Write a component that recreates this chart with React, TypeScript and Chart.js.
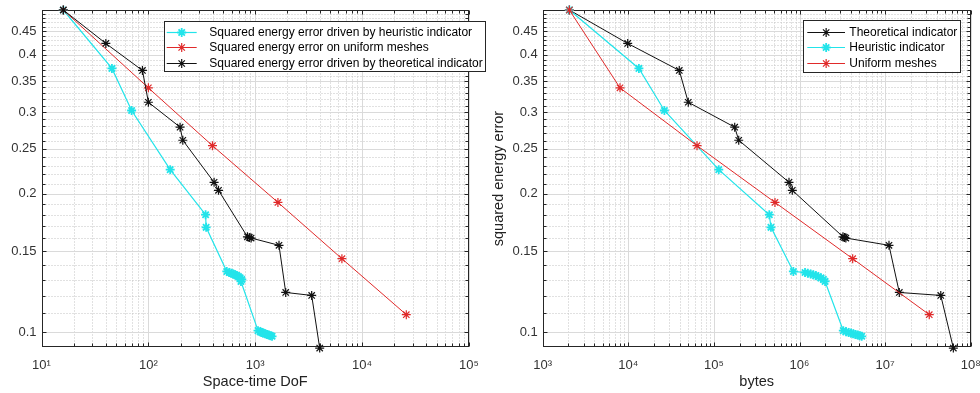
import React, { useEffect, useRef } from 'react';
import { Chart, registerables } from 'chart.js';
import { drawPoint } from 'chart.js/helpers';

Chart.register(...registerables);

// ---------------- data ----------------
const ERR_TICKS = [0.1, 0.15, 0.2, 0.25, 0.3, 0.35, 0.4, 0.45];
const DOF_TICKS = [1e1, 1e2, 1e3, 1e4, 1e5];
const BYTES_TICKS = [1e3, 1e4, 1e5, 1e6, 1e7, 1e8];

const UNIFORM_ERR = [0.5, 0.339, 0.254, 0.1914, 0.1445, 0.1093];
const UNIFORM_DOF = [16, 100, 398, 1630, 6470, 25900];
const UNIFORM_BYTES = [2050, 8000, 63500, 517000, 4.18e6, 3.28e7];

const THEO_ERR = [0.5, 0.4231, 0.3698, 0.3155, 0.2786, 0.261, 0.2116, 0.2033, 0.1612, 0.1607, 0.1602, 0.1545, 0.1221, 0.1203, 0.0925];
const THEO_DOF = [16, 40, 88, 100, 198, 210, 412, 453, 845, 880, 915, 1668, 1928, 3373, 4009];
const THEO_BYTES = [2050, 9840, 39400, 50200, 175000, 195000, 754000, 824000, 3.22e6, 3.35e6, 3.48e6, 1.11e7, 1.466e7, 4.47e7, 6.27e7];

const HEUR_ERR = [
  0.5, 0.3735, 0.3028, 0.2254, 0.18, 0.169,
  0.1356, 0.1349, 0.1344, 0.1339, 0.1334, 0.1328, 0.1321, 0.1313, 0.1303, 0.129,
  0.1009, 0.1004, 0.1, 0.0997, 0.0993, 0.099, 0.0987, 0.0984, 0.0981,
];
const HEUR_DOF = [
  16, 45.6, 69.7, 160, 343, 347,
  542, 572, 598, 622, 648, 672, 698, 722, 748, 735,
  1062, 1110, 1150, 1190, 1240, 1290, 1340, 1390, 1436,
];
const HEUR_BYTES = [
  2050, 13300, 26400, 114000, 444000, 464000,
  848000, 1.16e6, 1.25e6, 1.35e6, 1.45e6, 1.55e6, 1.66e6, 1.78e6, 1.9e6, 1.99e6,
  3.25e6, 3.5e6, 3.75e6, 4.0e6, 4.25e6, 4.5e6, 4.8e6, 5.05e6, 5.33e6,
];

const Y_MIN = 0.093;
const Y_MAX = 0.5;

// ---------------- styles ----------------
const FONT = '"Liberation Sans", Arial, Helvetica, sans-serif';
const CYAN = '#22e4ea';
const RED = '#e02a2a';
const BLACK = '#111111';
const AXIS = '#262626';

const SUP = ['⁰', '¹', '²', '³', '⁴', '⁵', '⁶', '⁷', '⁸', '⁹'];
const powLabel = (v: number) =>
  '10' + String(Math.round(Math.log10(v))).split('').map((d) => SUP[+d]).join('');

function logGrid(min: number, max: number) {
  const out: { v: number; major: boolean }[] = [];
  const k0 = Math.floor(Math.log10(min) + 1e-9);
  const k1 = Math.ceil(Math.log10(max) - 1e-9);
  for (let k = k0; k <= k1; k++) {
    for (let m = 1; m <= 9; m++) {
      const v = m * Math.pow(10, k);
      if (v >= min * (1 - 1e-9) && v <= max * (1 + 1e-9)) out.push({ v, major: m === 1 });
    }
  }
  return out;
}
function errGrid(min: number, max: number) {
  const out: { v: number; major: boolean }[] = [];
  for (let c = 9; c <= 50; c++) {
    const v = c / 100;
    if (v >= min - 1e-9 && v <= max + 1e-9) out.push({ v, major: ERR_TICKS.some((t) => Math.abs(t - v) < 1e-9) });
  }
  return out;
}

const axesPlugin = {
  id: 'mAxes',
  beforeDatasetsDraw(chart: any) {
    const { ctx, chartArea: a } = chart;
    const xs = chart.scales.x;
    const ys = chart.scales.y;
    const L = Math.round(a.left) + 0.5;
    const R = Math.round(a.right) - 0.5;
    const T = Math.round(a.top) + 0.5;
    const B = Math.round(a.bottom) - 0.5;
    const xg = logGrid(xs.min, xs.max).map((g) => ({ p: Math.round(xs.getPixelForValue(g.v)) + 0.5, major: g.major }));
    const yg = errGrid(ys.min, ys.max).map((g) => ({ p: Math.round(ys.getPixelForValue(g.v)) + 0.5, major: g.major }));
    ctx.save();
    ctx.lineWidth = 1;
    // minor grid (dotted)
    ctx.strokeStyle = '#c2c2c2';
    ctx.setLineDash([1, 2]);
    ctx.beginPath();
    for (const g of xg) if (!g.major) { ctx.moveTo(g.p, T); ctx.lineTo(g.p, B); }
    for (const g of yg) if (!g.major) { ctx.moveTo(L, g.p); ctx.lineTo(R, g.p); }
    ctx.stroke();
    // major grid
    ctx.setLineDash([]);
    ctx.strokeStyle = '#dadada';
    ctx.beginPath();
    for (const g of xg) if (g.major) { ctx.moveTo(g.p, T); ctx.lineTo(g.p, B); }
    for (const g of yg) if (g.major) { ctx.moveTo(L, g.p); ctx.lineTo(R, g.p); }
    ctx.stroke();
    // box
    ctx.strokeStyle = AXIS;
    ctx.strokeRect(L, T, R - L, B - T);
    // inward tick marks
    ctx.beginPath();
    for (const g of xg) {
      const len = g.major ? 4 : 3;
      ctx.moveTo(g.p, B); ctx.lineTo(g.p, B - len);
      ctx.moveTo(g.p, T); ctx.lineTo(g.p, T + len);
    }
    for (const g of yg) {
      const len = g.major ? 4 : 3;
      ctx.moveTo(L, g.p); ctx.lineTo(L + len, g.p);
      ctx.moveTo(R, g.p); ctx.lineTo(R - len, g.p);
    }
    ctx.stroke();
    ctx.restore();
  },
};

type Series = { label: string; xs: number[]; ys: number[]; color: string; lw: number; mw: number };
type LegendCfg = { x: number; y: number; w: number; h: number; lineX0: number; lineX1: number; textX: number; rowY: number[]; items: number[] };
type PanelCfg = {
  series: Series[];
  xMin: number;
  xMax: number;
  xTicks: number[];
  xTitle: string;
  yTitle: string;
  yWidth: number;
  padRight: number;
  legend: LegendCfg;
};

function makeLegendPlugin(lg: LegendCfg, series: Series[]) {
  return {
    id: 'mLegend',
    afterDraw(chart: any) {
      const { ctx } = chart;
      ctx.save();
      ctx.fillStyle = '#ffffff';
      ctx.fillRect(lg.x, lg.y, lg.w, lg.h);
      ctx.strokeStyle = AXIS;
      ctx.lineWidth = 1;
      ctx.strokeRect(Math.round(lg.x) + 0.5, Math.round(lg.y) + 0.5, Math.round(lg.w), Math.round(lg.h));
      lg.items.forEach((idx, i) => {
        const s = series[idx];
        const yy = Math.round(lg.rowY[i]) + 0.5;
        ctx.strokeStyle = s.color;
        ctx.fillStyle = s.color;
        ctx.lineWidth = s.lw;
        ctx.beginPath();
        ctx.moveTo(lg.lineX0, yy);
        ctx.lineTo(lg.lineX1, yy);
        ctx.stroke();
        ctx.lineWidth = s.mw;
        drawPoint(ctx, { pointStyle: 'star', radius: 4.5, rotation: 0, borderWidth: s.mw } as any, (lg.lineX0 + lg.lineX1) / 2, yy);
        ctx.fillStyle = '#000000';
        ctx.font = `12px ${FONT}`;
        ctx.textBaseline = 'middle';
        ctx.textAlign = 'left';
        ctx.fillText(s.label, lg.textX, yy);
      });
      ctx.restore();
    },
  };
}

function buildConfig(cfg: PanelCfg): any {
  const n = cfg.series.length;
  return {
    type: 'scatter',
    data: {
      datasets: cfg.series.map((s, i) => ({
        label: s.label,
        data: s.xs.map((x, j) => ({ x, y: s.ys[j] })),
        showLine: true,
        borderColor: s.color,
        backgroundColor: s.color,
        borderWidth: s.lw,
        pointStyle: 'star',
        pointRadius: 4.5,
        pointBorderWidth: s.mw,
        pointBorderColor: s.color,
        pointBackgroundColor: s.color,
        tension: 0,
        clip: false,
        order: n - 1 - i,
      })),
    },
    options: {
      responsive: false,
      animation: false,
      devicePixelRatio: 1,
      events: [],
      layout: { padding: { left: 0, top: 10, right: cfg.padRight, bottom: 0 } },
      plugins: { legend: { display: false }, tooltip: { enabled: false } },
      scales: {
        x: {
          type: 'logarithmic',
          position: 'bottom',
          min: cfg.xMin,
          max: cfg.xMax,
          afterBuildTicks: (s: any) => {
            s.ticks = cfg.xTicks.map((v) => ({ value: v }));
          },
          afterFit: (s: any) => {
            s.height = 46;
            s.paddingLeft = 0;
            s.paddingRight = 0;
          },
          grid: { display: false, drawTicks: false },
          border: { display: false },
          ticks: {
            autoSkip: false,
            maxRotation: 0,
            minRotation: 0,
            padding: 11,
            color: '#333333',
            font: { family: FONT, size: 13 },
            callback: (v: any) => powLabel(Number(v)),
          },
          title: {
            display: true,
            text: cfg.xTitle,
            color: '#222222',
            font: { family: FONT, size: 14.5 },
            padding: { top: 0, bottom: 2 },
          },
        },
        y: {
          type: 'logarithmic',
          position: 'left',
          min: Y_MIN,
          max: Y_MAX,
          afterBuildTicks: (s: any) => {
            s.ticks = ERR_TICKS.map((v) => ({ value: v }));
          },
          afterFit: (s: any) => {
            s.width = cfg.yWidth;
            s.paddingTop = 0;
            s.paddingBottom = 0;
          },
          grid: { display: false, drawTicks: false },
          border: { display: false },
          ticks: {
            autoSkip: false,
            padding: 5,
            color: '#333333',
            font: { family: FONT, size: 13 },
            callback: (v: any) => String(+Number(v).toFixed(2)),
          },
          title: {
            display: !!cfg.yTitle,
            text: cfg.yTitle,
            color: '#222222',
            font: { family: FONT, size: 14.5 },
            padding: { top: 0, bottom: 0 },
          },
        },
      },
    },
    plugins: [axesPlugin, makeLegendPlugin(cfg.legend, cfg.series)],
  };
}

const LEFT_CFG: PanelCfg = {
  series: [
    { label: 'Squared energy error driven by heuristic indicator', xs: HEUR_DOF, ys: HEUR_ERR, color: CYAN, lw: 1.2, mw: 1.8 },
    { label: 'Squared energy error on uniform meshes', xs: UNIFORM_DOF, ys: UNIFORM_ERR, color: RED, lw: 1, mw: 1.2 },
    { label: 'Squared energy error driven by theoretical indicator', xs: THEO_DOF, ys: THEO_ERR, color: BLACK, lw: 1, mw: 1.2 },
  ],
  xMin: 1e1,
  xMax: 1e5,
  xTicks: DOF_TICKS,
  xTitle: 'Space-time DoF',
  yTitle: '',
  yWidth: 41.5,
  padRight: 21,
  legend: { x: 163.5, y: 21, w: 321, h: 50, lineX0: 166.7, lineX1: 196.7, textX: 209.3, rowY: [31.7, 47.2, 62.7], items: [0, 1, 2] },
};

const RIGHT_CFG: PanelCfg = {
  series: [
    { label: 'Theoretical indicator', xs: THEO_BYTES, ys: THEO_ERR, color: BLACK, lw: 1, mw: 1.2 },
    { label: 'Heuristic indicator', xs: HEUR_BYTES, ys: HEUR_ERR, color: CYAN, lw: 1.2, mw: 1.8 },
    { label: 'Uniform meshes', xs: UNIFORM_BYTES, ys: UNIFORM_ERR, color: RED, lw: 1, mw: 1.2 },
  ],
  xMin: 1e3,
  xMax: 1e8,
  xTicks: BYTES_TICKS,
  xTitle: 'bytes',
  yTitle: 'squared energy error',
  yWidth: 52.7,
  padRight: 9.3,
  legend: { x: 312.7, y: 20, w: 157.3, h: 51.7, lineX0: 317.3, lineX1: 355, textX: 359.3, rowY: [31.7, 46.7, 62.7], items: [0, 1, 2] },
};

function Panel({ left, cfg }: { left: number; cfg: PanelCfg }) {
  const ref = useRef<HTMLCanvasElement>(null);
  useEffect(() => {
    if (!ref.current) return;
    const chart = new Chart(ref.current, buildConfig(cfg));
    return () => chart.destroy();
  }, [cfg]);
  return (
    <canvas
      ref={ref}
      width={490}
      height={393}
      style={{ position: 'absolute', left, top: 0, width: 490, height: 393, display: 'block' }}
    />
  );
}

export default function App() {
  return (
    <div style={{ position: 'fixed', left: 0, top: 0, width: 980, height: 393, background: '#ffffff', overflow: 'hidden' }}>
      <Panel left={0} cfg={LEFT_CFG} />
      <Panel left={490} cfg={RIGHT_CFG} />
    </div>
  );
}
